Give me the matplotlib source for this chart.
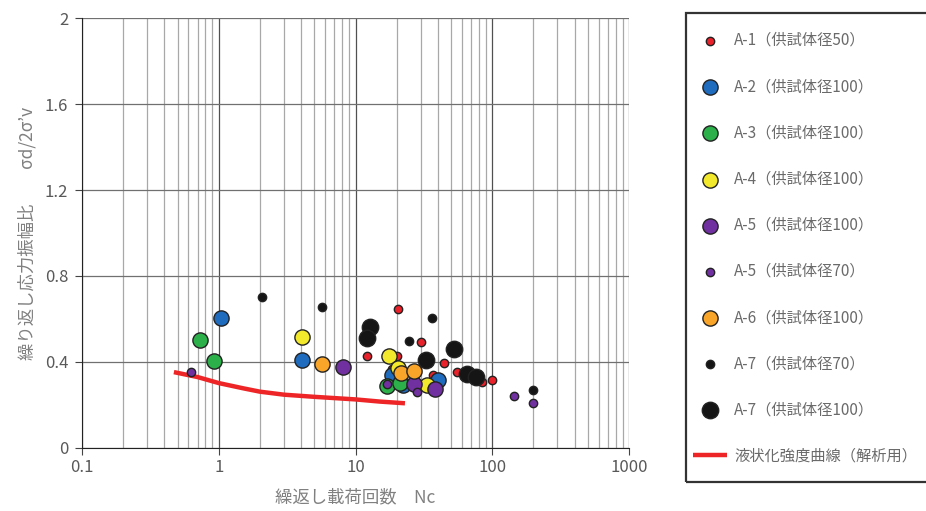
import numpy as np
import matplotlib
matplotlib.use("Agg")
import matplotlib.pyplot as plt
from matplotlib.patches import Rectangle
from matplotlib.ticker import FixedLocator, NullFormatter, FuncFormatter

plt.rcParams['font.family'] = ['Noto Sans CJK JP', 'DejaVu Sans']

# data (Nc, stress ratio)
a1_x = [20.4, 30.0, 12.1, 20.0, 44.3, 55.0, 65.0, 83.9, 99.2, 18.4, 36.7]
a1_y = [0.647, 0.493, 0.428, 0.428, 0.395, 0.353, 0.349, 0.307, 0.316, 0.367, 0.340]
a2_x = [1.03, 4.05, 18.4, 22.2, 40.0]
a2_y = [0.605, 0.409, 0.340, 0.293, 0.316]
a3_x = [0.726, 0.92, 16.9, 21.0]
a3_y = [0.502, 0.405, 0.288, 0.302]
a4_x = [4.05, 17.5, 20.4, 33.2]
a4_y = [0.516, 0.428, 0.372, 0.293]
a5_x = [8.07, 26.7, 38.0]
a5_y = [0.377, 0.298, 0.274]
a5s_x = [0.624, 16.9, 28.0, 143.6, 197.7]
a5s_y = [0.353, 0.298, 0.260, 0.242, 0.209]
a6_x = [5.67, 21.5, 27.0]
a6_y = [0.391, 0.349, 0.358]
a7s_x = [2.06, 5.67, 36.1, 24.5, 197.7]
a7s_y = [0.702, 0.656, 0.605, 0.498, 0.270]
a7_x = [12.7, 12.1, 32.6, 52.3, 65.1, 75.5]
a7_y = [0.563, 0.512, 0.409, 0.460, 0.344, 0.330]
curve_x = [0.47, 0.7, 1.0, 1.5, 2.0, 3.0, 5.0, 10.0, 15.0, 23.0]
curve_y = [0.353, 0.330, 0.302, 0.278, 0.262, 0.248, 0.238, 0.226, 0.216, 0.208]

labels = ['A-1（供試体径50）', 'A-2（供試体径100）', 'A-3（供試体径100）',
          'A-4（供試体径100）', 'A-5（供試体径100）', 'A-5（供試体径70）',
          'A-6（供試体径100）', 'A-7（供試体径70）', 'A-7（供試体径100）',
          '液状化強度曲線（解析用）']

big = 120
small = 36
series = [
    (a1_x, a1_y, '#e8212a', small),
    (a2_x, a2_y, '#1f6cbf', big),
    (a3_x, a3_y, '#2bb04a', big),
    (a4_x, a4_y, '#f2e82c', big),
    (a5_x, a5_y, '#7030a0', big),
    (a5s_x, a5s_y, '#7030a0', small),
    (a6_x, a6_y, '#f8a52a', big),
    (a7s_x, a7s_y, '#151515', small),
    (a7_x, a7_y, '#151515', big + 20),
]

fig = plt.figure(figsize=(9.26, 5.11), dpi=100)
ax = fig.add_axes([82/926, 1-448/511, (629-82)/926, (448-18)/511])

handles = []
for (xs, ys, c, s) in series:
    h = ax.scatter(xs, ys, s=s, c=c, edgecolors='#222222', linewidths=1.0, zorder=3)
    handles.append(h)
ln, = ax.plot(curve_x, curve_y, color='#ee2526', lw=3.2, zorder=2, solid_capstyle='butt')
handles.append(ln)

ax.set_xscale('log')
ax.set_xlim(0.1, 1000)
ax.set_ylim(0, 2)
ax.set_yticks([0, 0.4, 0.8, 1.2, 1.6, 2])
ax.yaxis.set_major_formatter(FuncFormatter(lambda v, p: '%g' % v))
ax.xaxis.set_major_locator(FixedLocator([0.1, 1, 10, 100, 1000]))
ax.xaxis.set_major_formatter(FuncFormatter(lambda v, p: '%g' % v))
minors = [m * 10.0**e for e in range(-1, 3) for m in range(2, 10)]
ax.xaxis.set_minor_locator(FixedLocator(minors))
ax.xaxis.set_minor_formatter(NullFormatter())

ax.grid(which='major', axis='x', color='#505050', lw=0.9, zorder=0)
ax.grid(which='minor', axis='x', color='#a8a8a8', lw=0.9, zorder=0)
ax.grid(which='major', axis='y', color='#707070', lw=0.9, zorder=0)
ax.set_axisbelow(True)
for sp in ['top', 'right']:
    ax.spines[sp].set_visible(False)
ax.spines['left'].set_color('#222222')
ax.spines['bottom'].set_color('#222222')
ax.tick_params(which='major', length=5, color='#444444', labelcolor='#595959', labelsize=12, pad=5)
ax.tick_params(which='minor', length=0)
ax.tick_params(axis='x', pad=3)

ax.set_xlabel('繰返し載荷回数　Nc', color='#808080', fontsize=12.5, labelpad=9)
ax.set_ylabel('繰り返し応力振幅比　　σd/2σ’v', color='#808080', fontsize=12.5, labelpad=6)

# legend box drawn by hand so the spacing can match
fig.patches.append(Rectangle((686/926, 1-482/511), 260/926, (482-13)/511,
                             transform=fig.transFigure, fill=False,
                             edgecolor='#333333', lw=1.6))
leg = fig.legend(handles, labels, loc='upper left', bbox_to_anchor=(693/926, 1-32/511),
                 frameon=False, fontsize=11, labelspacing=1.91,
                 borderpad=0, handletextpad=0.5, handlelength=2.2,
                 borderaxespad=0)
for t in leg.get_texts():
    t.set_color('#6a6a6a')

fig.savefig('out.png', dpi=100)
